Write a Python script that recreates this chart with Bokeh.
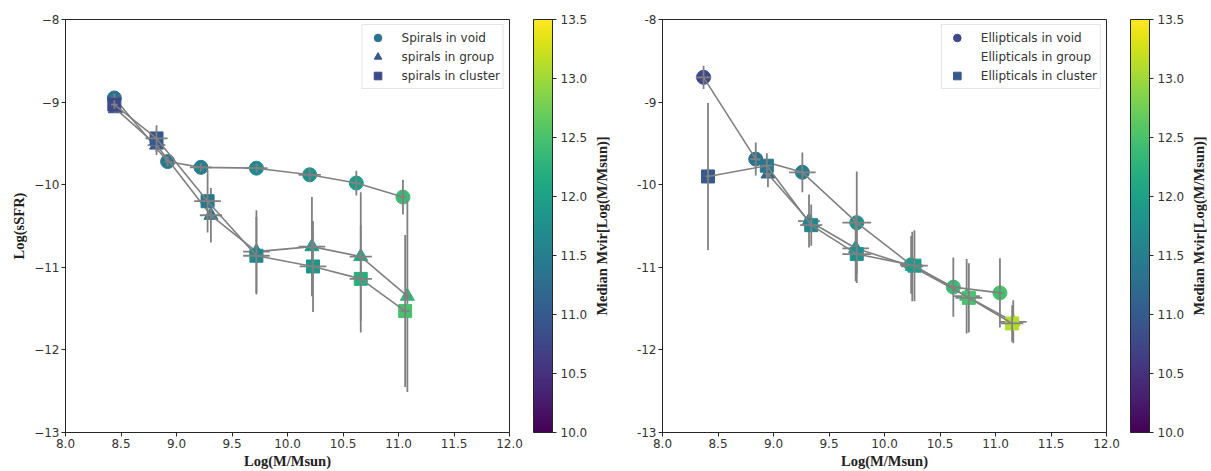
import numpy as np
from bokeh.plotting import figure
from bokeh.models import (ColumnDataSource, LinearColorMapper, ColorBar, FixedTicker,
                          PrintfTickFormatter, Legend, LegendItem)
from bokeh.layouts import row
from bokeh.palettes import Viridis256
from bokeh.embed import file_html
from bokeh.resources import INLINE

# ---------------- data ----------------
# Spirals (left panel)
sp_void_x = [8.44, 8.92, 9.22, 9.72, 10.20, 10.62, 11.04]
sp_void_y = [-8.95, -9.72, -9.79, -9.80, -9.88, -9.98, -10.15]
sp_void_xerr = [0.03, 0.03, 0.10, 0.10, 0.10, 0.04, 0.03]
sp_void_yerr = [0.05, 0.06, 0.05, 0.05, 0.08, 0.15, 0.21]
sp_void_mvir = [11.33, 11.40, 11.50, 11.68, 11.75, 11.95, 12.38]

sp_group_x = [8.45, 8.82, 9.31, 9.72, 10.22, 10.66, 11.08]
sp_group_y = [-9.08, -9.52, -10.37, -10.81, -10.75, -10.87, -11.35]
sp_group_xerr = [0.03, 0.08, 0.10, 0.12, 0.12, 0.10, 0.04]
sp_group_yerr = [0.05, 0.12, 0.33, 0.50, 0.60, 0.78, 1.16]
sp_group_mvir = [10.95, 11.00, 11.43, 11.60, 11.90, 12.10, 12.30]

sp_cluster_x = [8.44, 8.82, 9.28, 9.72, 10.23, 10.66, 11.06]
sp_cluster_y = [-9.03, -9.44, -10.20, -10.86, -10.99, -11.14, -11.53]
sp_cluster_xerr = [0.03, 0.10, 0.12, 0.12, 0.12, 0.10, 0.04]
sp_cluster_yerr = [0.05, 0.16, 0.38, 0.47, 0.55, 0.65, 0.92]
sp_cluster_mvir = [10.77, 10.95, 11.40, 11.63, 11.85, 12.20, 12.48]

# Ellipticals (right panel)
el_void_x = [8.37, 8.84, 9.26, 9.75, 10.24, 10.62, 11.04]
el_void_y = [-8.70, -9.69, -9.85, -10.46, -10.97, -11.24, -11.31]
el_void_xerr = [0.07, 0.05, 0.12, 0.13, 0.10, 0.05, 0.03]
el_void_yerr = [0.14, 0.20, 0.24, 0.62, 0.35, 0.36, 0.42]
el_void_mvir = [10.77, 11.33, 11.50, 11.75, 12.00, 12.38, 12.48]

el_group_x = [8.95, 9.32, 9.74, 10.25, 10.74, 11.16]
el_group_y = [-9.87, -10.44, -10.77, -10.99, -11.35, -11.66]
el_group_xerr = [0.03, 0.10, 0.12, 0.10, 0.12, 0.12]
el_group_yerr = [0.16, 0.32, 0.40, 0.42, 0.45, 0.26]
el_group_mvir = [11.20, 11.60, 11.68, 12.00, 12.40, 13.20]

el_cluster_x = [8.41, 8.94, 9.34, 9.75, 10.27, 10.76, 11.15]
el_cluster_y = [-9.90, -9.77, -10.49, -10.84, -10.98, -11.37, -11.68]
el_cluster_xerr = [0.02, 0.05, 0.10, 0.13, 0.12, 0.12, 0.10]
el_cluster_yerr = [0.89, 0.15, 0.25, 0.35, 0.43, 0.42, 0.22]
el_cluster_mvir = [10.98, 11.38, 11.60, 11.75, 11.93, 12.50, 13.10]

x_ticks = [8.0, 8.5, 9.0, 9.5, 10.0, 10.5, 11.0, 11.5, 12.0]
y_ticks = [-13, -12, -11, -10, -9, -8]
cbar_ticks = [10.0, 10.5, 11.0, 11.5, 12.0, 12.5, 13.0, 13.5]
cbar_label = "Median Mvir[Log(M/Msun)]"

# ---------------- style ----------------
FW, FH = 444, 413
TOP = 19
BOTTOM = 32
RIGHT = 78
GRAY = "#808080"
AX = "#262626"
TXT = "#333333"
SERIF = "Liberation Serif"
SANS = "DejaVu Sans"

mapper = LinearColorMapper(palette=Viridis256, low=10.0, high=13.5)


def series(p, xs, ys, xe, ye, mv, marker, size):
    src = ColumnDataSource(dict(
        x=xs, y=ys, m=mv,
        ylo=[a - b for a, b in zip(ys, ye)], yhi=[a + b for a, b in zip(ys, ye)],
        xlo=[a - b for a, b in zip(xs, xe)], xhi=[a + b for a, b in zip(xs, xe)],
    ))
    r = p.scatter("x", "y", source=src, marker=marker, size=size,
                  fill_color={"field": "m", "transform": mapper},
                  line_color={"field": "m", "transform": mapper})
    p.line("x", "y", source=src, line_color=GRAY, line_width=1.6)
    p.segment(x0="x", y0="ylo", x1="x", y1="yhi", source=src, line_color=GRAY, line_width=1.8)
    p.segment(x0="xlo", y0="y", x1="xhi", y1="y", source=src, line_color=GRAY, line_width=1.8)
    return r


def panel(min_left, minus_char, ylabel):
    p = figure(frame_width=FW, frame_height=FH, x_range=(8, 12), y_range=(-13, -8),
               output_backend="svg", toolbar_location=None,
               min_border_left=min_left, min_border_right=RIGHT, min_border_top=TOP,
               min_border_bottom=BOTTOM)
    p.grid.visible = False
    p.outline_line_color = AX
    p.outline_line_width = 1
    p.background_fill_color = "white"
    p.xaxis.ticker = FixedTicker(ticks=x_ticks)
    p.xaxis.formatter = PrintfTickFormatter(format="%.1f")
    p.yaxis.ticker = FixedTicker(ticks=y_ticks)
    p.yaxis.major_label_overrides = {t: (str(t).replace("-", minus_char)) for t in y_ticks}
    for ax in (p.xaxis[0], p.yaxis[0]):
        ax.axis_line_color = AX
        ax.major_tick_line_color = AX
        ax.major_tick_in = 0
        ax.major_tick_out = 4
        ax.minor_tick_line_color = None
        ax.major_label_text_font = SANS
        ax.major_label_text_font_size = "12px"
        ax.major_label_text_color = TXT
        ax.major_label_standoff = 2
        ax.axis_label_text_font = SERIF
        ax.axis_label_text_font_style = "bold"
        ax.axis_label_text_font_size = "14.5px"
        ax.axis_label_text_color = "#222222"
        ax.axis_label_standoff = 2
    p.xaxis.axis_label = "Log(M/Msun)"
    if ylabel:
        p.yaxis.axis_label = ylabel
        p.yaxis.axis_label_standoff = 4
    cb = ColorBar(color_mapper=mapper, ticker=FixedTicker(ticks=cbar_ticks),
                  formatter=PrintfTickFormatter(format="%.1f"),
                  width=19, padding=0, margin=0, location=(24, 0),
                  major_tick_in=0, major_tick_out=4, major_tick_line_color=AX,
                  minor_tick_line_color=None,
                  bar_line_color=AX, bar_line_width=1, border_line_color=None,
                  background_fill_alpha=0,
                  label_standoff=4, major_label_text_font=SANS,
                  major_label_text_font_size="12px", major_label_text_color=TXT)
    p.add_layout(cb, "right")
    return p


def label_fig():
    f = figure(width=20, frame_height=FH, x_range=(0, 1), y_range=(0, 1),
               output_backend="svg", toolbar_location=None,
               min_border_left=0, min_border_right=0, min_border_top=TOP,
               min_border_bottom=BOTTOM, outline_line_color=None)
    f.grid.visible = False
    f.xaxis.visible = False
    ya = f.yaxis[0]
    ya.ticker = FixedTicker(ticks=[])
    ya.axis_line_color = None
    ya.major_tick_line_color = None
    ya.minor_tick_line_color = None
    ya.major_label_text_font_size = "0px"
    ya.major_label_standoff = 0
    ya.axis_label = cbar_label
    ya.axis_label_text_font = SERIF
    ya.axis_label_text_font_style = "bold"
    ya.axis_label_text_font_size = "14.5px"
    ya.axis_label_text_color = "#222222"
    ya.axis_label_standoff = 0
    return f


def add_legend(p, entries):
    items = [LegendItem(label=lab, renderers=[r], index=0) for lab, r in entries]
    lg = Legend(items=items, location="top_right", label_text_font=SANS,
                label_text_font_size="12px", label_text_color=TXT,
                glyph_width=24, glyph_height=19, spacing=0, padding=3,
                margin=5, label_standoff=12,
                border_line_color="#cccccc", border_line_width=1,
                background_fill_alpha=0.9)
    p.add_layout(lg)


# ---------------- left: spirals ----------------
p1 = panel(65, "\u2212", "Log(sSFR)")
r_sv = series(p1, sp_void_x, sp_void_y, sp_void_xerr, sp_void_yerr, sp_void_mvir, "circle", 14)
r_sg = series(p1, sp_group_x, sp_group_y, sp_group_xerr, sp_group_yerr, sp_group_mvir, "triangle", 14)
r_sc = series(p1, sp_cluster_x, sp_cluster_y, sp_cluster_xerr, sp_cluster_yerr, sp_cluster_mvir, "square", 13)
add_legend(p1, [("Spirals in void", r_sv), ("spirals in group", r_sg), ("spirals in cluster", r_sc)])

# ---------------- right: ellipticals ----------------
p2 = panel(52, "-", None)
r_ev = series(p2, el_void_x, el_void_y, el_void_xerr, el_void_yerr, el_void_mvir, "circle", 14)
r_eg = series(p2, el_group_x, el_group_y, el_group_xerr, el_group_yerr, el_group_mvir, "triangle", 14)
r_ec = series(p2, el_cluster_x, el_cluster_y, el_cluster_xerr, el_cluster_yerr, el_cluster_mvir, "square", 13)
# legend entry for group is drawn without a visible marker
r_eg_leg = p2.scatter(x=[float("nan")], y=[float("nan")], marker="triangle", size=1,
                      fill_alpha=0, line_alpha=0)
add_legend(p2, [("Ellipticals in void", r_ev), ("Ellipticals in group", r_eg_leg),
                ("Ellipticals in cluster", r_ec)])

l1 = label_fig()
l2 = label_fig()

layout = row(p1, l1, p2, l2)
open("out.html", "w").write(file_html(layout, INLINE))
